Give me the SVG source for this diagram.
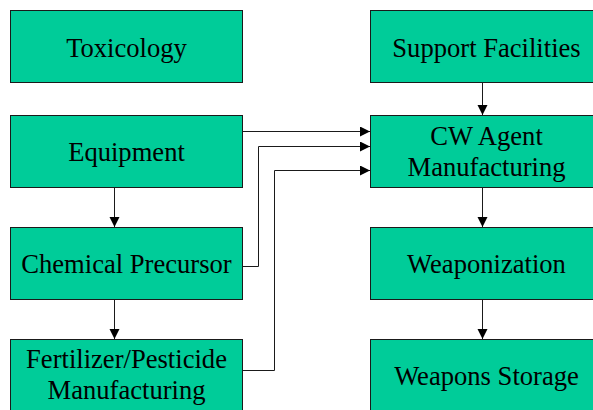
<svg xmlns="http://www.w3.org/2000/svg" width="593" height="410" viewBox="0 0 593 410">
<style>
.box{fill:#00CC99;stroke:#1a1a1a;stroke-width:1}
.lbl{font-family:"Liberation Serif","Times New Roman",serif;font-size:26.6px;fill:#000;text-anchor:middle}
.con{fill:none;stroke:#1a1a1a;stroke-width:1}
</style>
<defs>
<marker id="ah" markerWidth="11" markerHeight="11" refX="10" refY="5" orient="auto" markerUnits="userSpaceOnUse">
<path d="M0,0 L10,5 L0,10 Z" fill="#000"/>
</marker>
</defs>
<rect width="593" height="410" fill="#fff"/>
<g id="toxicology"><rect class="box" x="10.5" y="10.5" width="232" height="72"/><text class="lbl" x="126.5" y="57">Toxicology</text></g>
<g id="equipment"><rect class="box" x="10.5" y="115.5" width="232" height="72"/><text class="lbl" x="126.5" y="161">Equipment</text></g>
<g id="chemical-precursor"><rect class="box" x="10.5" y="227.5" width="232" height="72"/><text class="lbl" x="126.5" y="273">Chemical Precursor</text></g>
<g id="fertilizer"><rect class="box" x="10.5" y="339.5" width="232" height="80"/><text class="lbl" x="126.5" y="368">Fertilizer/Pesticide</text><text class="lbl" x="126.5" y="399">Manufacturing</text></g>
<g id="support-facilities"><rect class="box" x="370.5" y="10.5" width="232" height="72"/><text class="lbl" x="486.5" y="57">Support Facilities</text></g>
<g id="cw-agent"><rect class="box" x="370.5" y="115.5" width="232" height="72"/><text class="lbl" x="486.5" y="145">CW Agent</text><text class="lbl" x="486.5" y="176">Manufacturing</text></g>
<g id="weaponization"><rect class="box" x="370.5" y="227.5" width="232" height="72"/><text class="lbl" x="486.5" y="273">Weaponization</text></g>
<g id="weapons-storage"><rect class="box" x="370.5" y="339.5" width="232" height="80"/><text class="lbl" x="486.5" y="385">Weapons Storage</text></g>
<g id="connectors">
<path class="con" d="M114.5,187.5 V227" marker-end="url(#ah)"/>
<path class="con" d="M114.5,299.5 V339" marker-end="url(#ah)"/>
<path class="con" d="M482.5,82.5 V115" marker-end="url(#ah)"/>
<path class="con" d="M482.5,187.5 V227" marker-end="url(#ah)"/>
<path class="con" d="M482.5,299.5 V339" marker-end="url(#ah)"/>
<path class="con" d="M242.5,131.5 H370" marker-end="url(#ah)"/>
<path class="con" d="M242.5,266.5 H258.5 V146.5 H370" marker-end="url(#ah)"/>
<path class="con" d="M242.5,370.5 H274.5 V170.5 H370" marker-end="url(#ah)"/>
</g>
</svg>
